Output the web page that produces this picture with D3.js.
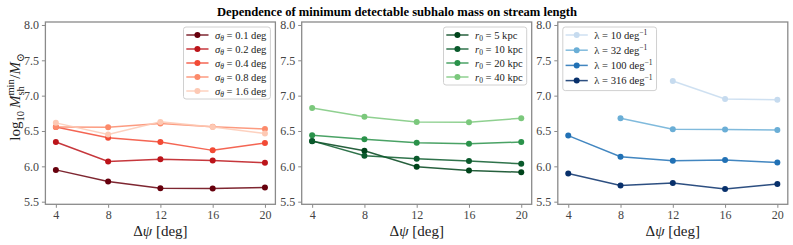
<!DOCTYPE html>
<html><head><meta charset="utf-8">
<script src="https://cdn.jsdelivr.net/npm/d3@7"></script>
<style>
body{margin:0;background:#fff;}
svg{display:block;}
text{font-family:"Liberation Serif","DejaVu Serif",serif;}
</style></head>
<body><svg id="c" width="793" height="245"></svg>
<script>
const dpsi = [4, 8, 12, 16, 20];
const xTicks = [4, 8, 12, 16, 20];
const yTicks = [5.5, 6.0, 6.5, 7.0, 7.5, 8.0];

const sigmaLabels = ["0.1", "0.2", "0.4", "0.8", "1.6"];
const sigmaColors = ["#67000d", "#bc141a", "#f24a35", "#fc8a6a", "#fdc9b4"];
const sigmaValues = [
  [5.950, 5.785, 5.690, 5.685, 5.700],
  [6.344, 6.069, 6.100, 6.083, 6.050],
  [6.558, 6.406, 6.344, 6.226, 6.330],
  [6.558, 6.553, 6.605, 6.560, 6.529],
  [6.615, 6.449, 6.629, 6.558, 6.463]
];

const r0Labels = ["5", "10", "20", "40"];
const r0Colors = ["#00441b", "#0a5a2c", "#2a924a", "#7bc87c"];
const r0Values = [
  [6.355, 6.221, 5.993, 5.941, 5.917],
  [6.360, 6.150, 6.107, 6.074, 6.036],
  [6.440, 6.382, 6.335, 6.320, 6.344],
  [6.824, 6.700, 6.629, 6.624, 6.681]
];

const lambdaLabels = ["10", "32", "100", "316"];
const lambdaColors = ["#c6dbef", "#6aaed6", "#2171b5", "#08306b"];
const lambdaValues = [
  [null, null, 7.208, 6.952, 6.942],
  [null, 6.681, 6.525, 6.520, 6.515],
  [6.435, 6.136, 6.079, 6.088, 6.055],
  [5.898, 5.728, 5.766, 5.680, 5.751]
];

const svg = d3.select("#c");
const W = 230, topY = 22, botY = 204.3;
const lefts = [45.4, 301.7, 557.8];
const y = d3.scaleLinear().domain([5.463, 8.042]).range([botY, topY]);
const spineColor = "#8a8a8a", tickTextColor = "#444";

// title
svg.append("text").attr("x", 397).attr("y", 16).attr("text-anchor", "middle")
  .attr("font-size", 12.6).attr("font-weight", "bold").attr("fill", "#000")
  .text("Dependence of minimum detectable subhalo mass on stream length");

function labelSigma(t, l) {
  t.append("tspan").attr("font-style", "italic").text("σ");
  t.append("tspan").attr("font-style", "italic").attr("font-size", "7.5px").attr("dy", 2.5).text("θ");
  t.append("tspan").attr("dy", -2.5).text(" = " + l + " deg");
}
function labelR0(t, l) {
  t.append("tspan").attr("font-style", "italic").text("r");
  t.append("tspan").attr("font-size", "7.5px").attr("dy", 2.5).text("0");
  t.append("tspan").attr("dy", -2.5).text(" = " + l + " kpc");
}
function labelLambda(t, l) {
  t.append("tspan").text("λ = " + l + " deg");
  t.append("tspan").attr("font-size", "7.5px").attr("dy", -4).text("−1");
}

const panels = [
  {labels: sigmaLabels, colors: sigmaColors, values: sigmaValues, lab: labelSigma, loc: "right", step: 14},
  {labels: r0Labels, colors: r0Colors, values: r0Values, lab: labelR0, loc: "right", step: 14},
  {labels: lambdaLabels, colors: lambdaColors, values: lambdaValues, lab: labelLambda, loc: "left", step: 15.2}
];

panels.forEach((p, i) => {
  const L = lefts[i];
  const x = d3.scaleLinear().domain([3.2, 20.8]).range([L, L + W]);
  const g = svg.append("g");

  const ax = g.append("g").attr("transform", `translate(0,${botY})`)
    .call(d3.axisBottom(x).tickValues(xTicks).tickSize(3.5).tickPadding(3).tickFormat(d3.format("d")));
  const ay = g.append("g").attr("transform", `translate(${L},0)`)
    .call(d3.axisLeft(y).tickValues(yTicks).tickSize(3.5).tickPadding(3).tickFormat(d3.format(".1f")));
  [ax, ay].forEach(a => {
    a.select(".domain").remove();
    a.selectAll(".tick line").attr("stroke", spineColor).attr("stroke-width", 1);
    a.selectAll(".tick text").attr("fill", tickTextColor).attr("font-size", 12)
      .attr("font-family", "'Liberation Serif', serif");
  });

  const line = d3.line().defined(d => d[1] != null).x(d => x(d[0])).y(d => y(d[1]));
  p.values.forEach((vals, k) => {
    const pts = dpsi.map((d, j) => [d, vals[j]]);
    g.append("path").datum(pts).attr("d", line).attr("fill", "none")
      .attr("stroke", p.colors[k]).attr("stroke-width", 1.5).attr("stroke-opacity", 0.85);
    g.selectAll(null).data(pts.filter(d => d[1] != null)).enter().append("circle")
      .attr("cx", d => x(d[0])).attr("cy", d => y(d[1])).attr("r", 3).attr("fill", p.colors[k]);
  });

  g.append("rect").attr("x", L).attr("y", topY).attr("width", W).attr("height", botY - topY)
    .attr("fill", "none").attr("stroke", spineColor).attr("stroke-width", 1.3);

  const lg = g.append("g");
  const box = lg.append("rect").attr("rx", 2.5).attr("fill", "#fff").attr("fill-opacity", 0.8)
    .attr("stroke", "#d0d0d0").attr("stroke-width", 1);
  const items = lg.append("g");
  let maxW = 0;
  p.labels.forEach((l, k) => {
    const ry = 8 + k * p.step;
    items.append("line").attr("x1", 2.8).attr("x2", 25).attr("y1", ry).attr("y2", ry)
      .attr("stroke", p.colors[k]).attr("stroke-width", 1.5).attr("stroke-opacity", 0.85);
    items.append("circle").attr("cx", 13.9).attr("cy", ry).attr("r", 3).attr("fill", p.colors[k]);
    const t = items.append("text").attr("x", 31.5).attr("y", ry + 3.6).attr("font-size", 10.6).attr("fill", "#222");
    p.lab(t, l);
    maxW = Math.max(maxW, t.node().getComputedTextLength());
  });
  const bw = 31.5 + maxW + 4;
  const bh = 8 + (p.labels.length - 1) * p.step + (i === 2 ? 10 : 8);
  box.attr("width", bw).attr("height", bh);
  const bx = p.loc === "right" ? L + W - 5 - bw : L + 5;
  lg.attr("transform", `translate(${bx},${topY + 5})`);

  const xl = svg.append("text").attr("x", L + W / 2).attr("y", 236).attr("text-anchor", "middle")
    .attr("font-size", 15).attr("fill", "#222");
  xl.append("tspan").text("Δ");
  xl.append("tspan").attr("font-style", "italic").text("ψ");
  xl.append("tspan").text(" [deg]");
});

(function () {
  const fs = 15, sfs = 10.5;
  const g = svg.append("g");
  const inner = g.append("g");
  let cx = 0;
  function piece(txt, size, dy, italic) {
    const t = inner.append("text").attr("x", cx).attr("y", dy).attr("font-size", size).attr("fill", "#222")
      .attr("font-style", italic ? "italic" : "normal").text(txt);
    return t.node().getComputedTextLength();
  }
  cx += piece("log", fs, 0, false);
  cx += piece("10", sfs, 3.5, false) + 3;
  cx += piece("M", fs, 0, true);
  const w1 = piece("min", sfs, -6.5, false);
  const w2 = piece("sh", sfs, 4, false);
  cx += Math.max(w1, w2) + 0.5;
  cx += piece("/", fs, 0, false);
  cx += piece("M", fs, 0, true);
  cx += piece("⊙", sfs, 4, false);
  inner.attr("transform", `translate(${-cx / 2},0)`);
  g.attr("transform", "translate(20,97) rotate(-90)");
})();
</script></body></html>
